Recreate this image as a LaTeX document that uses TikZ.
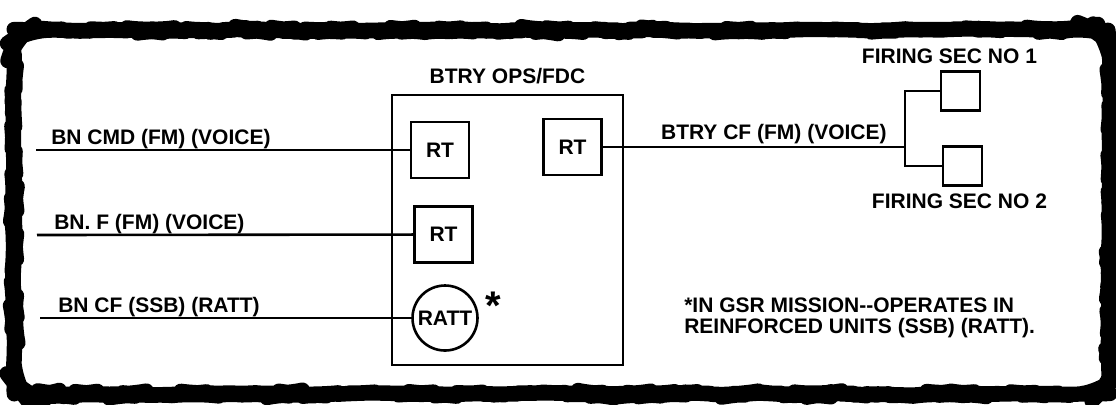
\documentclass[tikz,border=0pt]{standalone}
\usepackage{fontspec}
\setmainfont{Liberation Sans}
\usetikzlibrary{positioning, calc, decorations.pathmorphing}
\pgfmathsetseed{3}
\tikzset{
    commsdiagram/.style={x=0.5pt, y=0.5pt, line width=1.3pt, font=\fontsize{10.5}{10.5}\selectfont\bfseries},
    unit/.style={draw, minimum width=29pt, minimum height=28pt, inner sep=0pt},
    secbox/.style={draw, minimum size=19.5pt, inner sep=0pt},
    teletype/.style={draw, circle, minimum size=32.5pt, inner sep=0pt},
    opsbox/.style={draw, minimum width=115.5pt, minimum height=135pt},
    net/.style={inner sep=0pt},
    input/.style={coordinate},
    % rough outline round the whole sheet
    outline/.style={line width=7.5pt, rounded corners=12pt, line join=round,
        decorate, decoration={random steps, segment length=6pt, amplitude=0.7pt}},
}

\begin{document}
\begin{tikzpicture}[commsdiagram]
    \useasboundingbox (0,0) rectangle (1116,-404);
    \draw[outline] (14,-30) rectangle (1110,-394);

    \node[opsbox]                    (ops)    at (507.5,-230) {};
    \node[net, anchor=base]          (opslbl) at ($(ops.north)+(0,10)$) {BTRY OPS/FDC};
    \node[unit]                      (rt1)    at (440,-150) {RT};
    \node[unit]                      (rt2)    at (443.5,-234.5) {RT};
    \node[unit]                      (rt3)    at (572.5,-147) {RT};
    \node[teletype]                  (ratt)   at (445,-318) {RATT};
    \node[net, font=\fontsize{20}{20}\selectfont\bfseries] (astx) at (493,-306) {*};

    \node[secbox]                    (fs1)    at (960.5,-91) {};
    \node[secbox]                    (fs2)    at (962.5,-166) {};
    \node[net, anchor=base]          (fs1lbl) at ($(fs1.north)+(-11,7)$) {FIRING SEC NO 1};
    \node[net, anchor=base]          (fs2lbl) at ($(fs2.south)+(-3,-22)$) {FIRING SEC NO 2};

    \node[input]                     (cmdin)  at (36,-150) {};
    \node[input]                     (fin)    at (37,-235) {};
    \node[input]                     (cfin)   at (40,-318) {};
    \node[input]                     (fork)   at (905,-147) {};

    % nets to battalion
    \draw (cmdin) -- (rt1);
    \draw (fin) -- (rt2);
    \draw (cfin) -- (ratt);
    \node[net, anchor=base west] (cmdlbl) at ($(cmdin)+(14,6)$) {BN CMD (FM) (VOICE)};
    \node[net, anchor=base west] (flbl)   at ($(fin)+(16,6)$)   {BN. F (FM) (VOICE)};
    \node[net, anchor=base west] (cflbl)  at ($(cfin)+(17,6)$)  {BN CF (SSB) (RATT)};

    % battery net to firing sections
    \draw (rt3) -- (fork);
    \draw (fs1) -| (fork) |- (fs2);
    \node[net, anchor=base west] (cflbl2) at ($(rt3.east)+(57,8)$) {BTRY CF (FM) (VOICE)};

    \node[net, anchor=north west, align=left] (note) at (683,-297)
        {*IN GSR MISSION-{}-OPERATES IN\\REINFORCED UNITS (SSB) (RATT).};
\end{tikzpicture}
\end{document}
